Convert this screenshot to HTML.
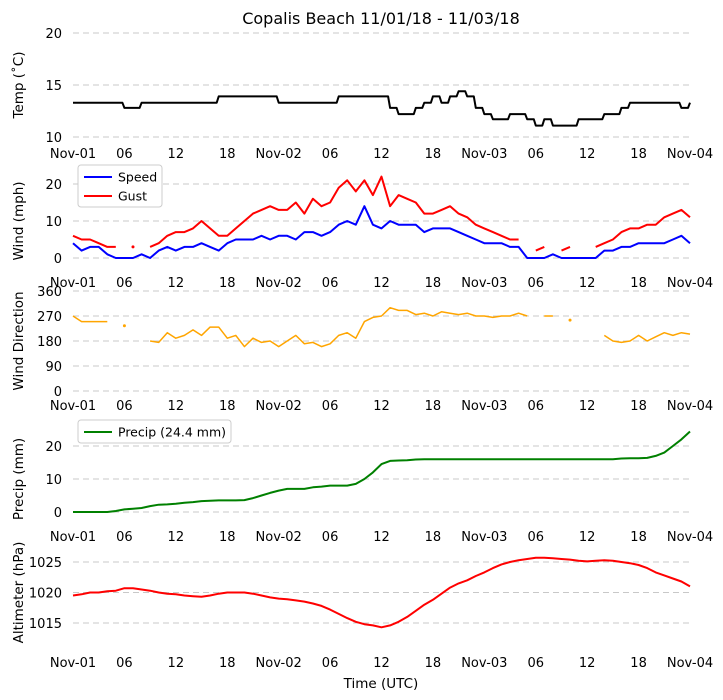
<!DOCTYPE html>
<html><head><meta charset="utf-8"><style>
body{margin:0;background:#fff;}
svg{display:block;font-family:"DejaVu Sans","Liberation Sans",sans-serif;}
</style></head><body>
<svg id="c" width="723" height="700"></svg>
<script>
const xTickLabels=["Nov-01","06","12","18","Nov-02","06","12","18","Nov-03","06","12","18","Nov-04"];
const temp=[13.3,13.3,13.3,13.3,13.3,13.3,12.8,12.8,13.3,13.3,13.3,13.3,13.3,13.3,13.3,13.3,13.3,13.9,13.9,13.9,13.9,13.9,13.9,13.9,13.3,13.3,13.3,13.3,13.3,13.3,13.3,13.9,13.9,13.9,13.9,13.9,13.9,12.8,12.2,12.2,12.8,13.3,13.9,13.3,13.9,14.4,13.9,12.8,12.2,11.7,11.7,12.2,12.2,11.7,11.1,11.7,11.1,11.1,11.1,11.7,11.7,11.7,12.2,12.2,12.8,13.3,13.3,13.3,13.3,13.3,13.3,12.8,13.3];
const speed=[4,2,3,3,1,0,0,0,1,0,2,3,2,3,3,4,3,2,4,5,5,5,6,5,6,6,5,7,7,6,7,9,10,9,14,9,8,10,9,9,9,7,8,8,8,7,6,5,4,4,4,3,3,0,0,0,1,0,0,0,0,0,2,2,3,3,4,4,4,4,5,6,4];
const gust=[6,5,5,4,3,3,null,3,null,3,4,6,7,7,8,10,8,6,6,8,10,12,13,14,13,13,15,12,16,14,15,19,21,18,21,17,22,14,17,16,15,12,12,13,14,12,11,9,8,7,6,5,5,null,2,3,null,2,3,null,null,3,4,5,7,8,8,9,9,11,12,13,11];
const direction=[270,250,250,250,250,null,235,null,null,180,175,210,190,200,220,200,230,230,190,200,160,190,175,180,160,180,200,170,175,160,170,200,210,190,250,265,270,300,290,290,275,280,270,285,280,275,280,270,270,265,270,270,280,270,null,270,270,null,255,null,null,null,200,180,175,180,200,180,195,210,200,210,205];
const precip=[0,0,0,0,0,0.3,0.8,1,1.2,1.8,2.2,2.3,2.5,2.8,3,3.3,3.4,3.5,3.5,3.5,3.6,4.2,5,5.8,6.5,7,7,7,7.5,7.7,8,8,8,8.5,10,12,14.5,15.5,15.6,15.7,15.9,16,16,16,16,16,16,16,16,16,16,16,16,16,16,16,16,16,16,16,16,16,16,16,16.2,16.3,16.3,16.4,17,18,20,22,24.4];
const altim=[1019.5,1019.7,1020,1020,1020.2,1020.3,1020.7,1020.7,1020.5,1020.3,1020,1019.8,1019.7,1019.5,1019.4,1019.3,1019.5,1019.8,1020,1020,1020,1019.8,1019.5,1019.2,1019,1018.9,1018.7,1018.5,1018.2,1017.8,1017.2,1016.5,1015.8,1015.2,1014.8,1014.6,1014.3,1014.6,1015.2,1016,1017,1018,1018.8,1019.8,1020.8,1021.5,1022,1022.7,1023.3,1024,1024.6,1025,1025.3,1025.5,1025.7,1025.7,1025.6,1025.5,1025.4,1025.2,1025.1,1025.2,1025.3,1025.2,1025,1024.8,1024.5,1024,1023.3,1022.8,1022.3,1021.8,1021];
const tempTicks=[10,15,20], windTicks=[0,10,20], dirTicks=[0,90,180,270,360], precipTicks=[0,10,20], altTicks=[1015,1020,1025];

const NS="http://www.w3.org/2000/svg", svg=document.getElementById('c');
function mk(t,a,txt){const e=document.createElementNS(NS,t);for(const k in a)e.setAttribute(k,a[k]);if(txt!==undefined)e.textContent=txt;svg.appendChild(e);return e;}
const X0=73,X1=690;
function xs(h){return X0+(X1-X0)*h/72;}
function panel(name,v0,y0,v1,y1,ticks,label,xlabY){
  const ys=v=>y0+(v-v0)*(y1-y0)/(v1-v0);
  ticks.forEach(t=>{
    const g=mk('line',{x1:X0,x2:X1,y1:ys(t),y2:ys(t),stroke:'#c8c8c8','stroke-dasharray':'6,4','stroke-width':1});
    
    
    const tl=mk('text',{x:62,y:ys(t)+5,'text-anchor':'end','font-size':13,fill:'#000'},String(t));
    
    
  });
  const cy=(ys(ticks[0])+ys(ticks[ticks.length-1]))/2;
  const yl=mk('text',{x:0,y:0,transform:`translate(23,${cy}) rotate(-90)`,'text-anchor':'middle','font-size':13.5},label);
  
  
  xTickLabels.forEach((l,i)=>{
    const t=mk('text',{x:xs(i*6),y:xlabY,'text-anchor':'middle','font-size':13},l);
    
    
  });
  return ys;
}
function series(arr,ys,color,name,w,step){
  let d='',pen=false,prev=null;
  arr.forEach((v,i)=>{
    if(v===null){pen=false;return;}
    if(pen&&step){d+='L'+(xs(i)-2).toFixed(1)+','+ys(prev).toFixed(1);}
    d+=(pen?'L':'M')+xs(i).toFixed(1)+','+ys(v).toFixed(1);pen=true;prev=v;
  });
  const p=mk('path',{d:d,fill:'none',stroke:color,'stroke-width':w||2,'stroke-linejoin':'round'});
  
  
  arr.forEach((v,i)=>{
    if(v===null)return;
    const isolated=(i===0||arr[i-1]===null)&&(i===arr.length-1||arr[i+1]===null);
    if(isolated){const c=mk('circle',{cx:xs(i),cy:ys(v),r:1.5,fill:color});
      
      }
  });
}
const tt=mk('text',{x:381,y:24,'text-anchor':'middle','font-size':16},'Copalis Beach 11/01/18 - 11/03/18');



const yT=panel('temp',20,33,10,137,tempTicks,'Temp (\u02daC)',158);
series(temp,yT,'#000','temp-line',2,true);
const yW=panel('wind',0,258,20,184,windTicks,'Wind (mph)',287);
series(gust,yW,'red','gust-line');
series(speed,yW,'blue','speed-line');
const yD=panel('direction',0,391,360,291,dirTicks,'Wind Direction',410);
series(direction,yD,'orange','direction-line',1.5);
const yP=panel('precip',0,512,20,446,precipTicks,'Precip (mm)',541);
series(precip,yP,'green','precip-line');
const yA=panel('altim',1015,623,1025,562,altTicks,'Altimeter (hPa)',667);
series(altim,yA,'red','altimeter-line');

const xl=mk('text',{x:381,y:688,'text-anchor':'middle','font-size':13.5},'Time (UTC)');



function legend(name,x,y,w,h,items){
  const b=mk('rect',{x:x,y:y,width:w,height:h,rx:3,fill:'#fff',stroke:'#ccc'});
  
  
  items.forEach((it,i)=>{
    const yy=y+12+i*19;
    const l=mk('line',{x1:x+6,x2:x+34,y1:yy,y2:yy,stroke:it[1],'stroke-width':2});
    
    
    const t=mk('text',{x:x+40,y:yy+4.5,'font-size':12.5},it[0]);
    
    
  });
}
legend('wind-legend',78,165,84,42,[['Speed','blue'],['Gust','red']]);
legend('precip-legend',78,420,153,23,[['Precip (24.4 mm)','green']]);
</script>
</body></html>
